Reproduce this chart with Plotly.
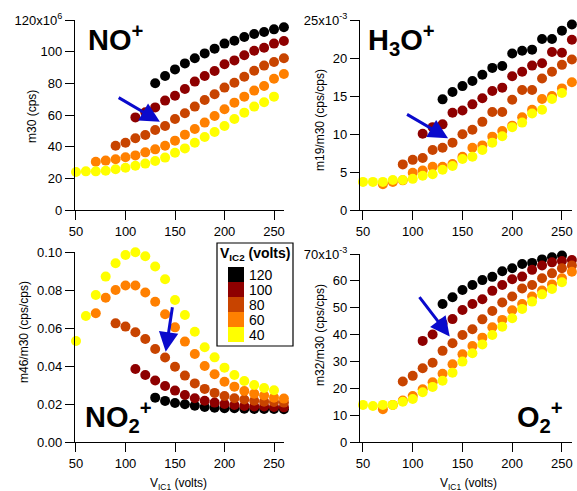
import plotly.graph_objects as go

W, H = 577, 491

# ---- data ----
VIC2 = ["120", "100", "80", "60", "40"]
COLORS = ["#000000", "#8E0000", "#C84400", "#FF8000", "#FFFF00"]

X_120 = [130, 140, 150, 160, 170, 180, 190, 200, 210, 220, 230, 240, 250, 260]
X_100 = [110, 120, 130, 140, 150, 160, 170, 180, 190, 200, 210, 220, 230, 240, 250, 260]
X_80 = [90, 100, 110, 120, 130, 140, 150, 160, 170, 180, 190, 200, 210, 220, 230, 240, 250, 260]
X_60 = [70, 80, 90, 100, 110, 120, 130, 140, 150, 160, 170, 180, 190, 200, 210, 220, 230, 240, 250, 260]
X_40 = [50, 60, 70, 80, 90, 100, 110, 120, 130, 140, 150, 160, 170, 180, 190, 200, 210, 220, 230, 240, 250]
XS = [X_120, X_100, X_80, X_60, X_40]

# m30 (cps), in units of 10^6
NO_120 = [80, 84.6, 88.8, 92.6, 95.8, 98.9, 101.9, 105.1, 106.9, 109.3, 111.2, 112.4, 114.1, 115.4]
NO_100 = [58.5, 61.7, 64.8, 69.1, 72.2, 76.4, 81.1, 84.6, 87.8, 92.0, 94.5, 97.7, 100.6, 102.5, 105.1, 106.7]
NO_80 = [40.6, 42.5, 45.3, 47.4, 50.5, 53.1, 57.5, 61.1, 65.3, 69.5, 73.1, 77.3, 80.4, 84.2, 88.0, 91.2, 93.5, 95.8]
NO_60 = [30.5, 31.2, 32.0, 33.3, 34.5, 36.4, 38.3, 40.6, 43.8, 47.6, 51.2, 55.2, 59.4, 63.6, 67.8, 71.6, 75.4, 78.3, 82.9, 85.9]
NO_40 = [24.0, 24.4, 24.4, 24.8, 25.7, 26.7, 28.0, 29.3, 30.9, 33.1, 36.2, 38.9, 42.5, 46.1, 49.3, 53.1, 57.5, 61.5, 65.3, 68.0, 71.6]

# m19/m30, in units of 10^-3
H3O_120 = [14.56, 15.53, 16.3, 16.97, 17.8, 18.7, 18.95, 20.6, 20.96, 21.1, 22.5, 22.5, 23.6, 24.4]
H3O_100 = [10.04, 10.9, 11.27, 12.8, 13.1, 13.9, 14.7, 15.66, 16.1, 17.6, 18.2, 19.0, 19.3, 20.8, 20.7, 22.4]
H3O_80 = [6.0, 6.6, 6.84, 7.9, 8.2, 8.86, 9.96, 10.57, 11.6, 12.9, 12.9, 14.5, 15.8, 15.8, 17.3, 18.2, 19.1, 19.8]
H3O_60 = [3.4, 3.7, 3.9, 4.9, 5.2, 5.7, 5.7, 6.05, 7.0, 8.2, 8.5, 9.65, 10.4, 11.1, 12.2, 13.2, 14.6, 15.0, 16.0, 16.8]
H3O_40 = [3.7, 3.7, 3.7, 3.95, 3.95, 4.1, 4.5, 4.7, 5.3, 5.8, 6.7, 7.0, 7.9, 8.86, 9.7, 10.9, 11.5, 12.7, 13.2, 14.6, 15.4]

# m46/m30
NO2_120 = [0.0235, 0.0218, 0.0207, 0.0200, 0.0193, 0.0186, 0.0182, 0.0179, 0.0179, 0.0177, 0.0175, 0.0175, 0.0175, 0.0174]
NO2_100 = [0.0386, 0.0354, 0.0325, 0.0296, 0.0272, 0.0249, 0.0232, 0.0219, 0.0209, 0.0202, 0.0196, 0.0191, 0.0189, 0.0188, 0.0186, 0.0184]
NO2_80 = [0.0626, 0.0609, 0.0579, 0.0544, 0.0491, 0.0446, 0.0398, 0.0351, 0.0310, 0.0281, 0.0260, 0.0244, 0.0232, 0.0225, 0.0219, 0.0214, 0.0212, 0.0209]
NO2_60 = [0.0679, 0.0761, 0.0802, 0.0825, 0.0825, 0.0788, 0.0740, 0.0674, 0.0605, 0.0530, 0.0465, 0.0402, 0.0358, 0.0319, 0.0293, 0.0270, 0.0256, 0.0246, 0.0235, 0.0230]
NO2_40 = [0.0533, 0.0665, 0.0775, 0.0872, 0.0942, 0.0986, 0.1000, 0.0979, 0.0925, 0.0858, 0.0749, 0.0670, 0.0582, 0.0500, 0.0447, 0.0393, 0.0354, 0.0323, 0.0302, 0.0286, 0.0274]

# m32/m30, in units of 10^-3
O2_120 = [51.4, 53.9, 56.6, 58.5, 60.3, 61.5, 63.6, 64.7, 66.3, 66.7, 68.0, 68.8, 69.4, 70.6]
O2_100 = [37.7, 40.1, 44.2, 45.8, 49.2, 51.4, 53.2, 56.3, 58.5, 60.6, 61.6, 64.1, 65.7, 66.9, 67.4, 67.8]
O2_80 = [22.6, 24.7, 27.5, 29.6, 34.0, 36.8, 39.9, 42.0, 45.7, 48.8, 52.0, 54.2, 57.2, 58.5, 61.0, 62.8, 64.7, 65.7]
O2_60 = [12.3, 13.9, 15.5, 17.2, 19.7, 22.3, 25.5, 29.0, 32.7, 35.8, 38.9, 42.8, 45.5, 49.1, 51.4, 54.2, 56.4, 58.7, 61.0, 63.4]
O2_40 = [13.9, 13.5, 13.9, 13.9, 15.1, 16.1, 18.6, 20.6, 22.9, 25.9, 30.0, 33.1, 36.4, 39.9, 43.0, 46.1, 49.6, 52.3, 55.0, 57.0, 59.5]

X_TICKS = [50, 100, 150, 200, 250]
NO_TICKS = [0, 20, 40, 60, 80, 100, 120]
NO_TICKTEXT = ["0", "20", "40", "60", "80", "100", "120x10<sup>6</sup>"]
H3O_TICKS = [0, 5, 10, 15, 20, 25]
H3O_TICKTEXT = ["0", "5", "10", "15", "20", "25x10<sup>-3</sup>"]
NO2_TICKS = [0.0, 0.02, 0.04, 0.06, 0.08, 0.10]
NO2_TICKTEXT = ["0.00", "0.02", "0.04", "0.06", "0.08", "0.10"]
O2_TICKS = [0, 10, 20, 30, 40, 50, 60, 70]
O2_TICKTEXT = ["0", "10", "20", "30", "40", "50", "60", "70x10<sup>-3</sup>"]

PANELS = [
    ([NO_120, NO_100, NO_80, NO_60, NO_40], "x", "y"),
    ([H3O_120, H3O_100, H3O_80, H3O_60, H3O_40], "x2", "y2"),
    ([NO2_120, NO2_100, NO2_80, NO2_60, NO2_40], "x3", "y3"),
    ([O2_120, O2_100, O2_80, O2_60, O2_40], "x4", "y4"),
]

FONT = "Liberation Sans, Arial, sans-serif"


def px(x):
    return x / W


def py(y):
    return 1 - y / H


fig = go.Figure()
for ys, xa, ya in PANELS:
    for i in range(len(VIC2)):
        fig.add_trace(go.Scatter(
            x=XS[i], y=ys[i], xaxis=xa, yaxis=ya, mode="markers",
            marker=dict(size=10, color=COLORS[i], line=dict(width=0)),
            cliponaxis=False, showlegend=False, name=VIC2[i]))

axis_common = dict(showline=True, linecolor="black", linewidth=1.2, ticks="outside",
                   ticklen=9, tickwidth=1.2, tickcolor="black", showgrid=False,
                   zeroline=False, automargin=False,
                   tickfont=dict(family=FONT, size=13, color="black"))

fig.update_layout(
    template="none",
    width=W, height=H, margin=dict(l=0, r=0, t=0, b=0, pad=0, autoexpand=False),
    paper_bgcolor="white", plot_bgcolor="white", showlegend=False,
    font=dict(family=FONT, color="black"),
    xaxis=dict(domain=[px(75), px(284)], range=[49, 260.1], anchor="y",
               tickvals=X_TICKS, **axis_common),
    yaxis=dict(domain=[py(210), py(20)], range=[0, 120], anchor="x",
               tickvals=NO_TICKS, ticktext=NO_TICKTEXT, **axis_common),
    xaxis2=dict(domain=[px(360), px(572)], range=[47, 260.1], anchor="y2",
                tickvals=X_TICKS, **axis_common),
    yaxis2=dict(domain=[py(210), py(20)], range=[0, 25], anchor="x2",
                tickvals=H3O_TICKS, ticktext=H3O_TICKTEXT, **axis_common),
    xaxis3=dict(domain=[px(75), px(284)], range=[49, 260.1], anchor="y3",
                tickvals=X_TICKS, **axis_common),
    yaxis3=dict(domain=[py(442.3), py(252.3)], range=[0, 0.1], anchor="x3",
                tickvals=NO2_TICKS, ticktext=NO2_TICKTEXT, **axis_common),
    xaxis4=dict(domain=[px(360), px(572)], range=[47, 260.1], anchor="y4",
                tickvals=X_TICKS, **axis_common),
    yaxis4=dict(domain=[py(442.3), py(254)], range=[0, 70], anchor="x4",
                tickvals=O2_TICKS, ticktext=O2_TICKTEXT, **axis_common),
)

ann = []
# axis titles
for txt, x, y in [("m30 (cps)", 32, 117), ("m19/m30 (cps/cps)", 320, 120),
                  ("m46/m30 (cps/cps)", 24, 332), ("m32/m30 (cps/cps)", 320, 335)]:
    ann.append(dict(text=txt, x=px(x), y=py(y), xref="paper", yref="paper", showarrow=False,
                    textangle=-90, font=dict(family=FONT, size=12, color="black"),
                    xanchor="center", yanchor="middle"))
for x in [178, 468]:
    ann.append(dict(text="V<sub>IC1</sub> (volts)", x=px(x), y=py(484), xref="paper", yref="paper",
                    showarrow=False, font=dict(family=FONT, size=12, color="black"),
                    xanchor="center", yanchor="middle"))

# ion labels
big = dict(family=FONT, size=29, color="black")
for txt, x, y in [("<b>NO<sup>+</sup></b>", 86, 38), ("<b>H<sub>3</sub>O<sup>+</sup></b>", 366, 40),
                  ("<b>NO<sub>2</sub><sup>+</sup></b>", 83, 417), ("<b>O<sub>2</sub><sup>+</sup></b>", 515, 417)]:
    ann.append(dict(text=txt, x=px(x), y=py(y), xref="paper", yref="paper", showarrow=False,
                    font=big, xanchor="left", yanchor="middle"))

# arrows
for xa, ya, x0, y0, x1, y1 in [("x", "y", 91.6, 71.5, 134.8, 55.7),
                               ("x2", "y2", 92.8, 12.7, 135.5, 9.43),
                               ("x3", "y3", 147.6, 0.0719, 140.6, 0.0477),
                               ("x4", "y4", 105.6, 54.5, 137.2, 39.3)]:
    ann.append(dict(x=x1, y=y1, ax=x0, ay=y0, xref=xa, yref=ya, axref=xa, ayref=ya,
                    showarrow=True, arrowhead=2, arrowsize=1.3, arrowwidth=3,
                    arrowcolor="#0A0ACC", text=""))

# legend (drawn manually)
shapes = [dict(type="rect", xref="paper", yref="paper", x0=px(217), x1=px(293),
               y0=py(346), y1=py(243), line=dict(color="black", width=1.2),
               fillcolor="white", layer="above")]
ann.append(dict(text="<b>V<sub>IC2</sub> (volts)</b>", x=px(255), y=py(254), xref="paper",
                yref="paper", showarrow=False, font=dict(family=FONT, size=14, color="black"),
                xanchor="center", yanchor="middle"))
for i, lab in enumerate(VIC2):
    top = 267 + i * 15
    shapes.append(dict(type="rect", xref="paper", yref="paper", x0=px(228), x1=px(244),
                       y0=py(top + 15), y1=py(top), line=dict(width=0),
                       fillcolor=COLORS[i], layer="above"))
    ann.append(dict(text=lab, x=px(247), y=py(top + 7.5), xref="paper", yref="paper",
                    showarrow=False, font=dict(family=FONT, size=14, color="black"),
                    xanchor="left", yanchor="middle"))

fig.update_layout(annotations=ann, shapes=shapes)
fig.write_html("out.html", config={"displayModeBar": False},
               post_script="document.body.style.margin='0px';document.body.style.overflow='hidden';")
